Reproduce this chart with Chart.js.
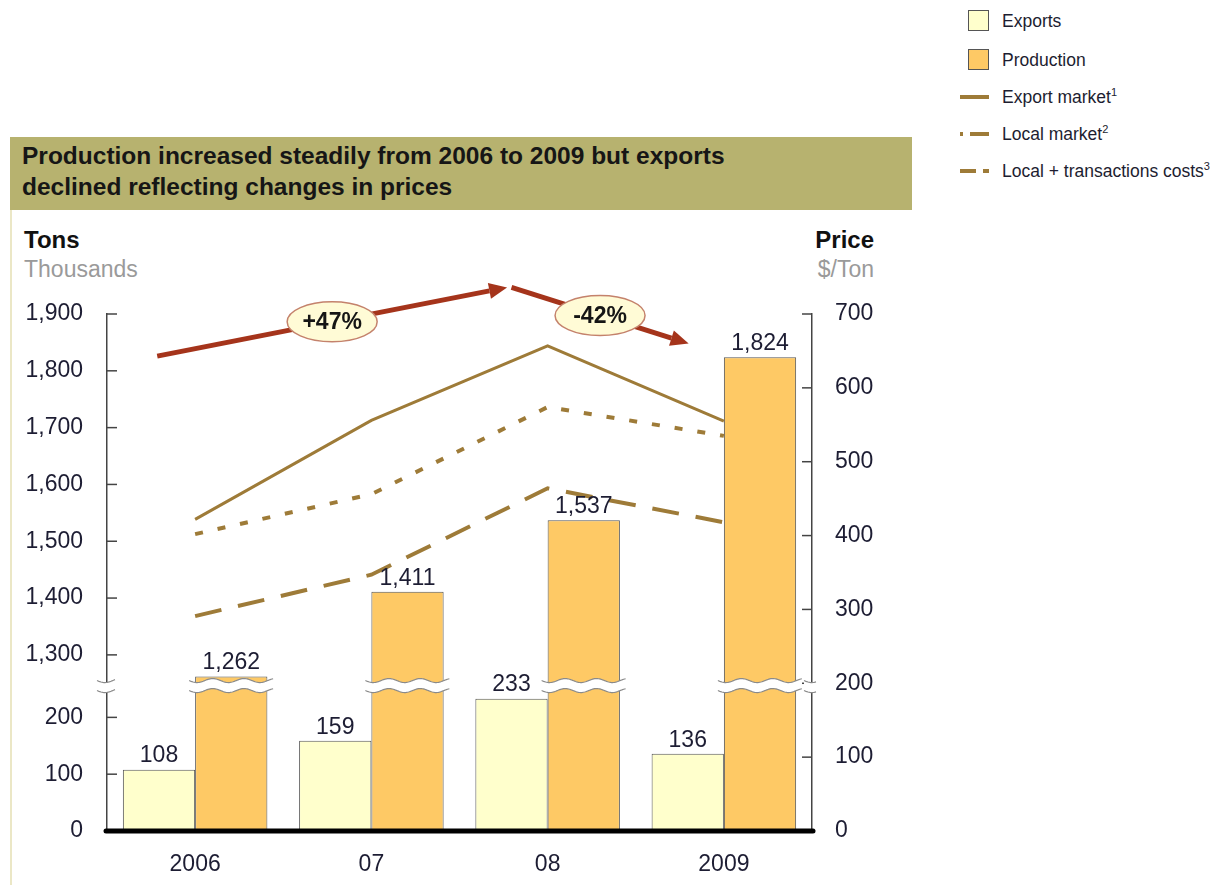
<!DOCTYPE html>
<html>
<head>
<meta charset="utf-8">
<script src="https://cdn.jsdelivr.net/npm/chart.js@4"></script>
<style>
  body { margin: 0; background: #fff; font-family: "Liberation Sans", Arial, sans-serif; }
  #wrap { position: relative; width: 1226px; height: 885px; overflow: hidden; }
  canvas { position: absolute; left: 0; top: 0; }
  .abs { position: absolute; white-space: nowrap; }
  #banner { left: 10px; top: 137px; width: 902px; height: 73px; background: #b7b26f; }
  #banner div { position: absolute; left: 12px; font-weight: bold; font-size: 24.5px; color: #161616; }
  #panel { left: 10px; top: 210px; width: 2px; height: 675px; background: #ebe7c6; }
  .ttl { font-weight: bold; font-size: 24px; color: #111; }
  .sub { font-size: 23px; color: #9a9a9a; }
  .leg { font-size: 17.5px; color: #1d1d30; left: 1002px; }
  .leg sup { font-size: 11px; }
  .sw { width: 19px; height: 19px; border: 1.5px solid #555; }
</style>
</head>
<body>
<div id="wrap">
  <div id="banner" class="abs">
    <div style="top:5px">Production increased steadily from 2006 to 2009 but exports</div>
    <div style="top:36px">declined reflecting changes in prices</div>
  </div>
  <div id="panel" class="abs"></div>
  <div class="abs ttl" style="left:24px; top:226px">Tons</div>
  <div class="abs sub" style="left:24px; top:256px">Thousands</div>
  <div class="abs ttl" style="right:352px; top:226px">Price</div>
  <div class="abs sub" style="right:352px; top:256px">$/Ton</div>

  <div class="abs sw" style="left:968px; top:10px; background:#ffffcc"></div>
  <div class="abs leg" style="top:11px">Exports</div>
  <div class="abs sw" style="left:968px; top:49px; background:#fec965"></div>
  <div class="abs leg" style="top:50px">Production</div>
  <svg class="abs" style="left:958px; top:88px" width="34" height="90">
    <line x1="2" y1="9" x2="31" y2="9" stroke="#9e7b38" stroke-width="4"/>
    <line x1="2" y1="46" x2="5" y2="46" stroke="#9e7b38" stroke-width="4"/>
    <line x1="12" y1="46" x2="31" y2="46" stroke="#9e7b38" stroke-width="4"/>
    <line x1="2" y1="83" x2="18" y2="83" stroke="#9e7b38" stroke-width="4"/>
    <line x1="25" y1="83" x2="31" y2="83" stroke="#9e7b38" stroke-width="4"/>
  </svg>
  <div class="abs leg" style="top:86px">Export market<sup>1</sup></div>
  <div class="abs leg" style="top:123px">Local market<sup>2</sup></div>
  <div class="abs leg" style="top:160px">Local + transactions costs<sup>3</sup></div>

  <canvas id="chart" width="1226" height="885"></canvas>
</div>

<script>
// categories
const years = ["2006", "07", "08", "2009"];

// tons, thousands (left axis, broken between 250 and 1,250)
const exportsTons = [108, 159, 233, 136];
const productionTons = [1262, 1411, 1537, 1824];

// price, $/ton (right axis)
const exportMarket = [422, 556, 657, 555];
const localMarket = [291, 347, 464, 418];
const localPlusCosts = [402, 456, 574, 535];

// tick labels
const leftTicks = [0, 100, 200, 1300, 1400, 1500, 1600, 1700, 1800, 1900];
const rightMax = 700;

// price change arrows (category index, price)
const changeArrows = [
  { from: [-0.215, 643], to: [1.77, 736], label: "+47%" },
  { from: [1.795, 736], to: [2.8, 660], label: "-42%" }
];

// axis break: values above breakHigh are shifted down to sit right above breakLow
const breakLow = 260, breakHigh = 1250;
const gap = breakHigh - breakLow;
function toAxis(v) { return v > breakHigh ? v - gap : v; }
const axisMax = toAxis(1900);

const FONT = "'Liberation Sans', Arial, sans-serif";
const TEXT = "#1d1d33";
const LINE = "#9e7b38";

// bar value labels, break bands, inward tick marks, arrows
const extras = {
  id: "extras",
  afterDatasetsDraw(chart) {
    const ctx = chart.ctx;
    const area = chart.chartArea;
    const y = chart.scales.y, y2 = chart.scales.y2, x = chart.scales.x;

    // inward tick marks
    ctx.save();
    ctx.strokeStyle = "#444";
    ctx.lineWidth = 1.5;
    y.ticks.forEach(t => {
      const py = y.getPixelForValue(t.value);
      ctx.beginPath(); ctx.moveTo(area.left, py); ctx.lineTo(area.left + 10, py); ctx.stroke();
    });
    y2.ticks.forEach(t => {
      const py = y2.getPixelForValue(t.value);
      ctx.beginPath(); ctx.moveTo(area.right - 10, py); ctx.lineTo(area.right, py); ctx.stroke();
    });
    // thick baseline on top of the bars
    ctx.strokeStyle = "#000";
    ctx.lineWidth = 5;
    ctx.lineCap = "round";
    ctx.beginPath(); ctx.moveTo(area.left - 1, area.bottom); ctx.lineTo(area.right + 1, area.bottom); ctx.stroke();
    ctx.restore();

    // wavy break bands
    const yc = y.getPixelForValue(breakLow - 4);
    function band(x0, x1) {
      const wave = (xx) => 2 * Math.sin((xx - x0) / 5);
      ctx.save();
      ctx.beginPath();
      for (let xx = x0; xx <= x1; xx++) ctx.lineTo(xx, yc - 5 + wave(xx));
      for (let xx = x1; xx >= x0; xx--) ctx.lineTo(xx, yc + 5 + wave(xx));
      ctx.closePath();
      ctx.fillStyle = "#fff";
      ctx.fill();
      ctx.strokeStyle = "#8a8a8a";
      ctx.lineWidth = 1.2;
      ctx.beginPath();
      for (let xx = x0; xx <= x1; xx++) ctx.lineTo(xx, yc - 5 + wave(xx));
      ctx.stroke();
      ctx.beginPath();
      for (let xx = x0; xx <= x1; xx++) ctx.lineTo(xx, yc + 5 + wave(xx));
      ctx.stroke();
      ctx.restore();
    }
    chart.getDatasetMeta(1).data.forEach(el => band(el.x - el.width / 2 - 6, el.x + el.width / 2 + 6));
    band(area.left - 10, area.left + 8);
    band(area.right - 8, area.right + 4);

    // value labels above bars
    ctx.save();
    ctx.font = "23px " + FONT;
    ctx.fillStyle = TEXT;
    ctx.textAlign = "center";
    ctx.textBaseline = "bottom";
    [exportsTons, productionTons].forEach((vals, di) => {
      chart.getDatasetMeta(di).data.forEach((el, i) => {
        ctx.fillText(vals[i].toLocaleString("en-US"), el.x, el.y - 2);
      });
    });
    ctx.restore();

    // red change arrows with labels
    changeArrows.forEach(a => {
      const x0 = x.getPixelForValue(a.from[0]), y0 = y2.getPixelForValue(a.from[1]);
      const x1 = x.getPixelForValue(a.to[0]), y1 = y2.getPixelForValue(a.to[1]);
      const ang = Math.atan2(y1 - y0, x1 - x0);
      const head = 18;
      ctx.save();
      ctx.strokeStyle = "#a5341b";
      ctx.fillStyle = "#a5341b";
      ctx.lineWidth = 5;
      ctx.beginPath();
      ctx.moveTo(x0, y0);
      ctx.lineTo(x1 - head * Math.cos(ang), y1 - head * Math.sin(ang));
      ctx.stroke();
      ctx.beginPath();
      ctx.moveTo(x1, y1);
      ctx.lineTo(x1 - head * Math.cos(ang) + 8 * Math.sin(ang), y1 - head * Math.sin(ang) - 8 * Math.cos(ang));
      ctx.lineTo(x1 - head * Math.cos(ang) - 8 * Math.sin(ang), y1 - head * Math.sin(ang) + 8 * Math.cos(ang));
      ctx.closePath();
      ctx.fill();
      const mx = (x0 + x1) / 2, my = (y0 + y1) / 2;
      ctx.beginPath();
      ctx.ellipse(mx, my, 45, 20, 0, 0, Math.PI * 2);
      ctx.fillStyle = "#fffbd6";
      ctx.fill();
      ctx.strokeStyle = "#c4826c";
      ctx.lineWidth = 1.5;
      ctx.stroke();
      ctx.fillStyle = "#151515";
      ctx.font = "bold 23px " + FONT;
      ctx.textAlign = "center";
      ctx.textBaseline = "middle";
      ctx.fillText(a.label, mx, my + 1);
      ctx.restore();
    });
  }
};

new Chart(document.getElementById("chart"), {
  type: "bar",
  data: {
    labels: years,
    datasets: [
      { label: "Exports", data: exportsTons.map(toAxis), yAxisID: "y",
        backgroundColor: "#ffffcc", borderColor: "#555", borderWidth: 1,
        barPercentage: 1, categoryPercentage: 0.82, order: 2 },
      { label: "Production", data: productionTons.map(toAxis), yAxisID: "y",
        backgroundColor: "#fec965", borderColor: "#555", borderWidth: 1,
        barPercentage: 1, categoryPercentage: 0.82, order: 2 },
      { type: "line", label: "Export market", data: exportMarket, yAxisID: "y2",
        borderColor: LINE, borderWidth: 3, pointRadius: 0, tension: 0, order: 1 },
      { type: "line", label: "Local market", data: localMarket, yAxisID: "y2",
        borderColor: LINE, borderWidth: 4, borderDash: [27, 17], pointRadius: 0, tension: 0, order: 1 },
      { type: "line", label: "Local + transactions costs", data: localPlusCosts, yAxisID: "y2",
        borderColor: LINE, borderWidth: 4, borderDash: [8, 15], pointRadius: 0, tension: 0, order: 1 }
    ]
  },
  options: {
    responsive: false,
    animation: false,
    devicePixelRatio: 1,
    layout: { padding: { top: 314, left: 0, right: 0, bottom: 0 } },
    plugins: { legend: { display: false }, tooltip: { enabled: false } },
    scales: {
      x: {
        grid: { display: false },
        border: { display: false },
        ticks: { font: { size: 23, family: FONT }, color: TEXT, padding: 12 },
        afterFit: s => { s.height = 54; }
      },
      y: {
        position: "left",
        min: 0, max: axisMax,
        grid: { display: false },
        border: { color: "#444", width: 1.5 },
        afterBuildTicks: s => { s.ticks = leftTicks.map(v => ({ value: toAxis(v) })); },
        ticks: {
          font: { size: 23, family: FONT }, color: TEXT, padding: 16,
          callback: (val, i) => leftTicks[i].toLocaleString("en-US")
        },
        afterFit: s => { s.width = 107; }
      },
      y2: {
        position: "right",
        min: 0, max: rightMax,
        grid: { display: false },
        border: { color: "#444", width: 1.5 },
        ticks: { stepSize: 100, font: { size: 23, family: FONT }, color: TEXT, padding: 15 },
        afterFit: s => { s.width = 414; }
      }
    }
  },
  plugins: [extras]
});
</script>
</body>
</html>
